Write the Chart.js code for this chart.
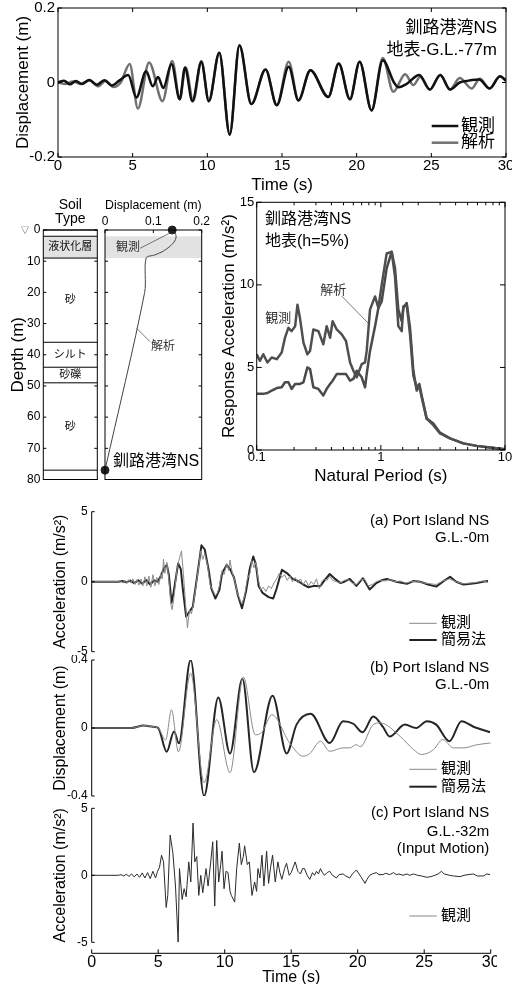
<!DOCTYPE html>
<html lang="ja">
<head>
<meta charset="utf-8">
<title>釧路港湾NS / Port Island NS</title>
<script src="https://cdn.jsdelivr.net/npm/chart.js@4.4.1/dist/chart.umd.min.js"></script>
<style>
  html, body { margin: 0; padding: 0; background: #fff; }
  body { position: relative; width: 512px; height: 984px; overflow: hidden; }
  canvas { position: absolute; }
</style>
</head>
<body>
<canvas id="topDisp"></canvas>
<canvas id="soilCol"></canvas>
<canvas id="soilDisp"></canvas>
<canvas id="spectrum"></canvas>
<canvas id="piAcc"></canvas>
<canvas id="piDisp"></canvas>
<canvas id="piInput"></canvas>
<script>
// ---------- Kushiro Port NS: relative displacement, surface vs G.L.-77m [time s, m] ----------
const kushiroObserved = [[0,0],[0.4,0.005],[0.8,-0.005],[1.2,0.004],[1.6,-0.004],[2.1,0.007],[2.6,-0.006],[3.1,0.006],[3.6,-0.008],[4.1,0.005],[4.7,0.02],[5.25,-0.04],[5.9,0.03],[6.35,-0.01],[6.7,0.015],[7.05,-0.015],[7.6,0.05],[8.15,-0.045],[8.5,0.04],[9.0,-0.05],[9.6,0.055],[10.1,-0.05],[10.8,0.08],[11.5,-0.14],[12.15,0.1],[12.95,-0.058],[13.9,0.035],[14.65,-0.061],[15.45,0.042],[16.1,-0.048],[16.9,0.033],[18.1,-0.039],[18.8,0.051],[19.55,-0.045],[20.2,0.056],[21.0,-0.075],[21.75,0.06],[22.5,0.0],[22.8,-0.013],[23.3,-0.005],[24.2,0.02],[24.9,-0.019],[25.6,0.02],[26.25,-0.019],[26.9,0.0],[27.5,0.005],[28.2,0.008],[28.9,-0.016],[29.6,0.017],[30,0.005]];
const kushiroAnalysis = [[0,0],[0.5,-0.004],[1.0,0.003],[1.5,-0.004],[2.1,0.006],[2.7,-0.01],[3.2,0.005],[3.7,-0.012],[4.2,0.0],[4.8,0.05],[5.35,-0.07],[6.1,0.054],[7.0,-0.05],[7.65,0.058],[8.15,-0.045],[8.55,0.04],[9.05,-0.05],[9.6,0.058],[10.1,-0.05],[10.8,0.08],[11.5,-0.14],[12.15,0.1],[12.95,-0.058],[13.9,0.035],[14.65,-0.061],[15.45,0.056],[16.1,-0.048],[16.9,0.033],[18.1,-0.039],[18.8,0.051],[19.55,-0.045],[20.2,0.056],[21.0,-0.075],[21.75,0.066],[22.45,-0.025],[23.25,0.022],[23.8,-0.007],[24.25,0.015],[24.9,-0.019],[25.6,0.02],[26.25,-0.019],[26.9,0.012],[27.7,-0.016],[28.25,0.01],[28.9,-0.016],[29.6,0.017],[30,0.005]];

// ---------- Soil profile (depth m) and peak displacement profile ----------
const layerBounds = [0, 2, 9, 36, 44, 49, 77];
const layerNames = ['', '液状化層', '砂', 'シルト', '砂礫', '砂'];
const liquefiedRange = [2, 9];
const profileDepth = [0, 1, 2, 3, 4, 5, 6, 7, 8, 9, 20, 77];
const profileDisp = [0.139, 0.145, 0.147, 0.146, 0.142, 0.136, 0.128, 0.118, 0.103, 0.085, 0.082, 0];
const observedPeaks = [[0.139, 0], [0, 77]];   // [displacement m, depth m]

// ---------- Acceleration response spectrum, surface, h=5% ----------
const periods = [0.100,0.106,0.113,0.122,0.132,0.145,0.159,0.169,0.180,0.191,0.204,0.213,0.223,0.238,0.256,0.269,0.286,0.314,0.344,0.366,0.390,0.409,0.441,0.484,0.524,0.565,0.601,0.639,0.701,0.746,0.769,0.818,0.898,0.955,1.016,1.114,1.222,1.300,1.383,1.472,1.518,1.615,1.718,1.827,1.943,2.042,2.132,2.339,2.648,2.996,3.606,4.617,5.913,7.572,10];
const saObserved = [5.8,5.4,5.8,5.3,5.6,5.5,5.9,6.8,7.4,7.2,7.5,8.8,8.0,6.5,5.8,6.0,7.3,7.2,6.4,7.5,6.8,7.8,7.3,7.0,6.6,5.3,4.8,4.4,5.2,5.3,6.0,8.5,9.3,8.6,10.0,11.9,12.0,10.5,7.5,7.2,8.7,8.8,7.0,4.5,3.8,4.0,3.3,1.9,1.5,1.0,0.7,0.4,0.25,0.15,0.05];
const saAnalysis = [3.4,3.4,3.4,3.45,3.6,3.75,3.8,4.1,4.1,3.7,4.0,4.0,4.0,4.1,5.0,4.9,3.8,3.7,3.3,3.7,4.0,4.2,4.6,4.6,4.6,4.2,4.3,4.8,4.4,3.8,4.6,6.0,7.5,8.6,9.0,11.0,12.0,11.0,8.5,7.8,8.6,8.9,7.4,4.8,3.6,3.9,3.2,1.9,1.6,1.05,0.7,0.4,0.25,0.15,0.05];

// ---------- Port Island NS [time s, value] ----------
const accSurfObserved = [[0,0],[2.0,0],[2.2,0.08],[2.35,-0.1],[2.5,0.1],[2.65,-0.12],[2.8,0.15],[2.95,-0.1],[3.1,0.2],[3.25,-0.2],[3.4,0.15],[3.55,-0.25],[3.7,0.2],[3.85,-0.3],[4.0,0.35],[4.15,-0.3],[4.3,0.4],[4.45,-0.4],[4.6,0.5],[4.75,-0.3],[4.9,0.3],[5.05,-0.2],[5.2,0.6],[5.3,0.2],[5.4,1.6],[5.5,0.6],[5.65,1.4],[5.8,0.2],[5.95,-1.6],[6.05,-2.0],[6.2,-1.0],[6.4,0.8],[6.55,1.5],[6.75,2.2],[6.9,0.5],[7.05,-1.5],[7.2,-3.3],[7.35,-2.0],[7.5,-2.3],[7.65,-1.6],[7.8,-0.6],[8.0,0.8],[8.2,2.2],[8.35,1.6],[8.5,2.0],[8.7,1.2],[8.9,-0.2],[9.1,-0.6],[9.3,-1.0],[9.45,-0.8],[9.6,-0.3],[9.8,0.8],[9.95,0.5],[10.15,1.3],[10.3,0.8],[10.4,1.55],[10.55,0.7],[10.75,0.1],[10.95,-0.8],[11.15,-1.3],[11.3,-1.6],[11.5,-1.0],[11.7,0.2],[11.9,0.6],[12.05,1.5],[12.2,1.0],[12.35,1.4],[12.5,0.3],[12.7,-0.6],[12.9,-0.4],[13.1,-0.7],[13.3,-0.3],[13.5,-0.5],[13.7,-0.1],[13.9,0.2],[14.1,0.6],[14.3,0.3],[14.5,0.5],[14.7,0.1],[14.9,0.4],[15.1,0.0],[15.3,0.3],[15.5,-0.1],[15.7,0.2],[15.9,-0.2],[16.1,0.1],[16.3,-0.3],[16.5,0.0],[16.7,-0.2],[16.9,0.2],[17.1,-0.5],[17.3,0.0],[17.5,0.2],[17.7,0.1],[17.9,0.4],[18.1,0.1],[18.4,0.0],[18.7,-0.1],[19.0,0.1],[19.3,0.15],[19.6,-0.1],[19.9,-0.2],[20.2,0.1],[20.5,0.2],[20.8,-0.3],[21.1,-0.2],[21.4,0.0],[21.7,0.1],[22.0,0.05],[22.4,0.15],[22.8,0.0],[23.2,0.05],[23.6,-0.1],[24.0,0.0],[24.5,0.05],[25.0,-0.1],[25.5,-0.15],[25.9,-0.2],[26.4,0.05],[26.9,0.2],[27.4,0.0],[27.9,-0.15],[28.4,-0.1],[28.9,-0.05],[29.4,0.05],[29.8,-0.05]];
const accSurfSimple = [[0,0],[2.0,0],[2.3,0.05],[2.6,-0.05],[2.9,0.08],[3.2,-0.1],[3.5,0.1],[3.8,-0.15],[4.1,0.12],[4.4,-0.2],[4.7,0.1],[4.95,0.0],[5.2,0.4],[5.45,1.0],[5.65,1.2],[5.8,0.5],[6.0,-1.5],[6.15,-0.8],[6.5,1.3],[6.7,0.9],[6.85,-0.5],[7.1,-2.5],[7.3,-2.2],[7.6,-1.8],[7.9,0.2],[8.25,2.6],[8.5,2.3],[8.8,0.8],[9.0,-0.5],[9.3,-1.2],[9.6,-0.6],[9.8,0.6],[10.15,1.2],[10.4,0.9],[10.7,0.3],[11.0,-1.0],[11.3,-1.9],[11.6,-0.7],[11.9,1.0],[12.15,1.8],[12.35,1.2],[12.55,-0.3],[12.85,-0.8],[13.3,-1.1],[13.65,-1.2],[13.9,-0.5],[14.3,0.85],[14.7,0.6],[15.1,0.2],[15.5,0.05],[15.9,-0.2],[16.3,-0.4],[16.7,-0.3],[17.2,-0.3],[17.5,0.1],[17.9,0.55],[18.3,0.2],[18.7,-0.1],[19.0,0.0],[19.4,0.2],[19.9,-0.3],[20.4,0.25],[20.9,-0.55],[21.4,-0.1],[21.8,0.1],[22.2,0.2],[22.9,0.0],[23.7,-0.15],[24.2,0.05],[24.7,0.0],[25.3,-0.2],[25.9,-0.35],[26.4,0.0],[26.95,0.35],[27.4,0.0],[27.95,-0.2],[28.5,-0.15],[28.95,-0.1],[29.4,0.0],[29.8,0.05]];
const dispSurfObserved = [[0,0],[3.0,0],[3.9,0.014],[4.6,0.008],[5.0,0],[5.56,-0.07],[6.0,0.107],[6.52,-0.14],[7.44,0.322],[8.45,-0.322],[9.4,0.049],[10.4,-0.263],[11.4,0.3],[12.3,-0.04],[12.8,-0.025],[13.55,0.078],[14.9,-0.09],[15.9,-0.166],[16.4,-0.15],[17.2,-0.078],[17.9,-0.137],[18.9,-0.117],[19.4,-0.117],[19.9,-0.098],[20.2,-0.11],[21.17,0.02],[21.7,0.03],[23.2,-0.05],[24.2,-0.127],[24.8,-0.156],[25.7,-0.127],[26.4,-0.068],[27.2,-0.117],[27.94,-0.117],[29.0,-0.098],[30,-0.088]];
const dispSurfSimple = [[0,0],[3.0,0],[3.9,0.014],[4.6,0.008],[5.0,0],[5.64,-0.14],[6.19,-0.02],[6.55,-0.09],[7.44,0.4],[8.45,-0.4],[9.52,0.18],[10.4,-0.15],[11.33,0.29],[12.2,-0.26],[13.6,0.19],[14.66,-0.15],[15.4,0.02],[16.46,0.084],[17.9,-0.088],[18.9,0.04],[19.67,0.025],[20.37,-0.025],[21.17,0.068],[21.9,0.006],[22.4,-0.05],[23.55,0.02],[24.4,0.0],[25.2,0.04],[25.9,0.02],[26.9,-0.078],[27.8,0.04],[28.75,0.006],[29.95,-0.025]];
const accInputObserved = [[0,0],[2.0,0],[2.2,0.05],[2.4,-0.05],[2.6,0.08],[2.8,-0.08],[3.0,0.1],[3.2,-0.12],[3.4,0.1],[3.6,-0.15],[3.8,0.18],[4.0,-0.2],[4.2,0.2],[4.4,-0.25],[4.6,0.3],[4.8,-0.2],[4.95,0.3],[5.1,0.6],[5.25,1.5],[5.4,1.0],[5.6,-2.4],[5.72,-1.5],[5.9,3.0],[6.1,1.7],[6.3,-0.8],[6.5,-5.0],[6.6,0.5],[6.8,-1.8],[6.95,-1.0],[7.1,-1.6],[7.3,1.0],[7.45,-0.5],[7.62,3.9],[7.75,1.0],[7.9,1.4],[8.05,-1.5],[8.2,0.0],[8.35,-1.3],[8.5,-0.2],[8.6,0.5],[8.75,-0.8],[8.95,1.0],[9.1,2.5],[9.25,-2.3],[9.4,2.6],[9.55,-0.5],[9.7,0.8],[9.8,1.8],[9.95,-1.0],[10.1,0.3],[10.25,0.2],[10.4,-1.2],[10.5,-1.5],[10.75,-2.0],[10.9,0.5],[11.1,2.4],[11.25,0.8],[11.4,1.4],[11.5,2.2],[11.7,0.8],[11.85,1.0],[12.05,-1.5],[12.25,-0.5],[12.4,-1.2],[12.5,0.5],[12.65,-0.2],[12.8,1.5],[12.95,-0.8],[13.15,1.8],[13.3,-0.6],[13.45,0.6],[13.6,1.5],[13.8,-0.5],[14.0,1.0],[14.15,0.2],[14.3,-0.3],[14.5,0.5],[14.65,0.9],[14.85,0.0],[15.0,0.2],[15.15,0.6],[15.3,1.0],[15.5,0.3],[15.7,0.1],[15.85,0.5],[16.0,0.5],[16.2,0.0],[16.4,-0.3],[16.6,0.2],[16.75,0.0],[16.9,0.3],[17.05,0.1],[17.2,0.5],[17.35,0.2],[17.5,0.0],[17.7,0.2],[17.9,0.3],[18.1,0.0],[18.4,-0.2],[18.6,0.05],[18.9,0.1],[19.1,-0.05],[19.4,-0.2],[19.6,0.1],[19.9,0.4],[20.1,0.1],[20.3,-0.2],[20.55,-0.6],[20.7,-0.3],[20.9,0.0],[21.1,0.1],[21.4,0.2],[21.6,0.05],[21.9,0.05],[22.1,0.15],[22.4,0.05],[22.7,0.2],[22.9,0.05],[23.1,0.1],[23.4,0.0],[23.7,0.1],[23.9,0.0],[24.2,0.1],[24.5,0.0],[24.8,-0.05],[25.2,-0.15],[25.5,-0.1],[25.8,0.0],[26.05,0.1],[26.3,0.3],[26.5,0.1],[26.9,0.0],[27.2,-0.05],[27.7,-0.1],[28.0,0.0],[28.3,0.05],[28.7,0.1],[29.0,-0.05],[29.45,-0.05],[29.7,0.1],[29.95,0.05]];

// ---------- common setup ----------
const FAMILY = "'Liberation Sans', Arial, 'Noto Sans CJK JP', sans-serif";
Chart.defaults.font.family = FAMILY;
Chart.defaults.color = '#000';
Chart.defaults.animation = false;
Chart.defaults.responsive = false;
Chart.defaults.plugins.legend.display = false;
Chart.defaults.plugins.tooltip.enabled = false;
Chart.defaults.elements.point.radius = 0;
Chart.defaults.elements.line.borderJoinStyle = 'round';
const font = (size) => `${size}px ${FAMILY}`;
const noGrid = { display: false, drawTicks: false };

function mountCanvas(id, box) {
  const c = document.getElementById(id);
  c.width = box.w; c.height = box.h;
  Object.assign(c.style, { left: box.x + 'px', top: box.y + 'px', width: box.w + 'px', height: box.h + 'px' });
  return c;
}
// pin an axis to a fixed thickness so the plot area lands where intended
function fixSize(prop, size) {
  return (s) => { s[prop] = size; s.paddingLeft = s.paddingRight = s.paddingTop = s.paddingBottom = 0; };
}
const toXY = (pairs) => pairs.map(([x, y]) => ({ x, y }));

// frame, bare axis lines and inward tick marks
function axesPlugin(cfg) {
  return {
    id: 'axesBox',
    afterDatasetsDraw(chart) {
      const { ctx, chartArea: a } = chart;
      const xs = chart.scales.x, ys = chart.scales.y;
      const t = cfg.ticks || {};
      ctx.save();
      ctx.strokeStyle = '#000';
      ctx.lineWidth = 1;
      const seg = (x1, y1, x2, y2) => { ctx.beginPath(); ctx.moveTo(x1, y1); ctx.lineTo(x2, y2); ctx.stroke(); };
      const minor = (v) => xs.type === 'logarithmic' && Math.abs(Math.log10(v) - Math.round(Math.log10(v))) > 1e-6;
      if (cfg.box) ctx.strokeRect(a.left, a.top, a.right - a.left, a.bottom - a.top);
      xs.ticks.forEach(tk => {
        const px = xs.getPixelForValue(tk.value);
        const f = minor(tk.value) ? 0.6 : 1;
        if (t.top) seg(px, a.top, px, a.top + t.top * f);
        if (t.bottom) seg(px, a.bottom, px, a.bottom - t.bottom * f);
      });
      ys.ticks.forEach(tk => {
        const py = ys.getPixelForValue(tk.value);
        if (t.left) seg(a.left, py, a.left + t.left, py);
        if (t.right) seg(a.right, py, a.right - t.right, py);
      });
      if (cfg.yLine) seg(a.left, ys.getPixelForValue(ys.max), a.left, ys.getPixelForValue(ys.min));
      if (cfg.xLineOffset != null) {
        const y0 = a.bottom + cfg.xLineOffset;
        seg(xs.getPixelForValue(xs.min), y0, xs.getPixelForValue(xs.max), y0);
        xs.ticks.forEach(tk => { const px = xs.getPixelForValue(tk.value); seg(px, y0, px, y0 - 4); });
      }
      ctx.restore();
    }
  };
}

// free text, legend keys and leader lines, given in page coordinates
function notesPlugin(box, items) {
  return {
    id: 'notes',
    afterDraw(chart) {
      const ctx = chart.ctx;
      ctx.save();
      items.forEach(n => {
        if (n.seg) {
          ctx.strokeStyle = n.color || '#000';
          ctx.lineWidth = n.width || 1;
          ctx.beginPath();
          ctx.moveTo(n.seg[0] - box.x, n.seg[1] - box.y);
          ctx.lineTo(n.seg[2] - box.x, n.seg[3] - box.y);
          ctx.stroke();
        } else {
          ctx.font = n.font;
          ctx.fillStyle = n.color || '#000';
          ctx.textAlign = n.align || 'left';
          ctx.textBaseline = 'middle';
          ctx.fillText(n.text, n.x - box.x, n.y - box.y);
        }
      });
      ctx.restore();
    }
  };
}

// shaded depth band (liquefied layer)
function bandPlugin(range, color) {
  return {
    id: 'band',
    beforeDatasetsDraw(chart) {
      const { ctx, chartArea: a, scales: { y } } = chart;
      const y1 = y.getPixelForValue(range[0]), y2 = y.getPixelForValue(range[1]);
      ctx.save();
      ctx.fillStyle = color;
      ctx.fillRect(a.left, y1, a.right - a.left, y2 - y1);
      ctx.restore();
    }
  };
}

// soil layer boundaries and names
const layersPlugin = {
  id: 'layers',
  afterDatasetsDraw(chart) {
    const { ctx, chartArea: a, scales: { y } } = chart;
    ctx.save();
    ctx.strokeStyle = '#000';
    ctx.lineWidth = 1;
    layerBounds.forEach(d => {
      const py = y.getPixelForValue(d);
      ctx.beginPath(); ctx.moveTo(a.left, py); ctx.lineTo(a.right, py); ctx.stroke();
    });
    ctx.fillStyle = '#111';
    ctx.font = font(11);
    ctx.textAlign = 'center';
    ctx.textBaseline = 'middle';
    layerNames.forEach((name, i) => {
      if (!name) return;
      const py = y.getPixelForValue((layerBounds[i] + layerBounds[i + 1]) / 2);
      ctx.fillText(name, (a.left + a.right) / 2, py);
    });
    ctx.restore();
  }
};

// ---------- 1. Kushiro Port displacement time history ----------
const boxTop = { x: 0, y: 0, w: 512, h: 200 };
new Chart(mountCanvas('topDisp', boxTop), {
  type: 'line',
  data: { datasets: [
    { data: toXY(kushiroObserved), borderColor: '#111', borderWidth: 2.5, cubicInterpolationMode: 'monotone' },
    { data: toXY(kushiroAnalysis), borderColor: '#707070', borderWidth: 2.5, cubicInterpolationMode: 'monotone' }
  ] },
  options: {
    layout: { padding: { top: 8, right: 6, left: 0, bottom: 0 } },
    scales: {
      x: { type: 'linear', min: 0, max: 30, grid: noGrid, border: { display: false },
           ticks: { stepSize: 5, font: { size: 15 }, padding: 0, maxRotation: 0, autoSkip: false },
           title: { display: true, text: 'Time (s)', font: { size: 17 }, padding: { top: 0, bottom: 4 } },
           afterFit: fixSize('height', 43) },
      y: { min: -0.2, max: 0.2, grid: noGrid, border: { display: false },
           ticks: { stepSize: 0.2, font: { size: 15 }, padding: 3 },
           title: { display: true, text: 'Displacement (m)', font: { size: 17 }, padding: { top: 13, bottom: 0 } },
           afterFit: fixSize('width', 58) }
    }
  },
  plugins: [
    axesPlugin({ box: true, ticks: { top: 4, bottom: 4, left: 4, right: 4 } }),
    notesPlugin(boxTop, [
      { text: '釧路港湾NS', x: 497, y: 28, align: 'right', font: font(17) },
      { text: '地表-G.L.-77m', x: 497, y: 50, align: 'right', font: font(17) },
      { seg: [431.7, 126, 458.3, 126], color: '#111', width: 2.5 },
      { text: '観測', x: 461, y: 126, font: font(17) },
      { seg: [431.7, 142.7, 458.3, 142.7], color: '#707070', width: 2.5 },
      { text: '解析', x: 461, y: 142.7, font: font(17) }
    ])
  ]
});

// ---------- 2a. Soil type column ----------
const boxSoil = { x: 0, y: 195, w: 100, h: 290 };
new Chart(mountCanvas('soilCol', boxSoil), {
  type: 'line',
  data: { datasets: [] },
  options: {
    layout: { padding: { top: 0, right: 2.7, left: 0, bottom: 5.5 } },
    scales: {
      x: { type: 'linear', position: 'top', min: 0, max: 1, grid: noGrid, border: { display: false },
           ticks: { display: false },
           title: { display: true, text: ['Soil', 'Type'], font: { size: 14, lineHeight: 1.0 }, padding: { top: 3, bottom: 0 } },
           afterFit: fixSize('height', 35) },
      y: { type: 'linear', reverse: true, min: 0, max: 80, grid: noGrid, border: { display: false },
           ticks: { stepSize: 10, font: { size: 12 }, padding: 3 },
           title: { display: true, text: 'Depth (m)', font: { size: 17 }, padding: { top: 8, bottom: 0 } },
           afterFit: fixSize('width', 43.3) }
    }
  },
  plugins: [
    bandPlugin(liquefiedRange, '#e2e2e2'),
    layersPlugin,
    axesPlugin({ box: true, ticks: { left: 3, right: 3 } }),
    notesPlugin(boxSoil, [ { text: '▽', x: 25, y: 231, align: 'center', font: font(8), color: '#444' } ])
  ]
});

// ---------- 2b. Peak displacement profile ----------
const boxProf = { x: 100, y: 195, w: 112, h: 290 };
new Chart(mountCanvas('soilDisp', boxProf), {
  type: 'line',
  data: { datasets: [
    { data: observedPeaks.map(([x, y]) => ({ x, y })), showLine: false, pointRadius: 4,
      pointBackgroundColor: '#222', pointBorderColor: '#222', clip: false },
    { data: profileDepth.map((d, i) => ({ x: profileDisp[i], y: d })), borderColor: '#444', borderWidth: 1, tension: 0.3 }
  ] },
  options: {
    layout: { padding: { top: 0, right: 10.3, left: 3.3, bottom: 5.5 } },
    scales: {
      x: { type: 'linear', position: 'top', min: 0, max: 0.2, grid: noGrid, border: { display: false },
           ticks: { stepSize: 0.1, font: { size: 12 }, padding: 1, maxRotation: 0, autoSkip: false },
           title: { display: true, text: 'Displacement (m)', font: { size: 13 }, padding: { top: 2.2, bottom: 0 } },
           afterFit: fixSize('height', 35) },
      y: { type: 'linear', reverse: true, min: 0, max: 80, display: false, ticks: { stepSize: 10 } }
    }
  },
  plugins: [
    bandPlugin(liquefiedRange, '#e2e2e2'),
    axesPlugin({ box: true, ticks: { left: 3, right: 3, top: 3 } }),
    notesPlugin(boxProf, [
      { text: '観測', x: 128, y: 247.7, align: 'center', font: font(12), color: '#333' },
      { seg: [140, 248.3, 170, 233], color: '#555', width: 0.8 },
      { text: '解析', x: 163, y: 346.7, align: 'center', font: font(12), color: '#333' },
      { seg: [150, 341.7, 136.7, 328.3], color: '#555', width: 0.8 },
      { text: '釧路港湾NS', x: 113, y: 461.7, font: font(16) }
    ])
  ]
});

// ---------- 3. Response spectrum ----------
const boxSpec = { x: 212, y: 195, w: 300, h: 292 };
new Chart(mountCanvas('spectrum', boxSpec), {
  type: 'line',
  data: { datasets: [
    { data: periods.map((p, i) => ({ x: p, y: saObserved[i] })), borderColor: '#4f4f4f', borderWidth: 2.5 },
    { data: periods.map((p, i) => ({ x: p, y: saAnalysis[i] })), borderColor: '#4a4a4a', borderWidth: 2.5 }
  ] },
  options: {
    layout: { padding: { top: 7.3, right: 7, left: 0, bottom: 0 } },
    scales: {
      x: { type: 'logarithmic', min: 0.1, max: 10, grid: noGrid, border: { display: false },
           ticks: { font: { size: 13 }, padding: 0, maxRotation: 0, autoSkip: false,
                    callback: (v) => { const l = Math.log10(v); return Math.abs(l - Math.round(l)) < 1e-6 ? String(v) : ''; } },
           title: { display: true, text: 'Natural Period (s)', font: { size: 17 }, padding: { top: 0, bottom: 0 } },
           afterFit: fixSize('height', 37) },
      y: { min: 0, max: 15, grid: noGrid, border: { display: false },
           ticks: { stepSize: 5, font: { size: 13 }, padding: 2.4 },
           title: { display: true, text: 'Response Acceleration (m/s²)', font: { size: 17 }, padding: { top: 6.8, bottom: 0 } },
           afterFit: fixSize('width', 44.7) }
    }
  },
  plugins: [
    axesPlugin({ box: true, ticks: { top: 5, bottom: 5, left: 5, right: 5 } }),
    notesPlugin(boxSpec, [
      { text: '釧路港湾NS', x: 265, y: 220, font: font(16) },
      { text: '地表(h=5%)', x: 265, y: 241.7, font: font(16) },
      { text: '解析', x: 333.3, y: 290, align: 'center', font: font(13), color: '#333' },
      { seg: [341.7, 296, 368.3, 323.3], color: '#555', width: 0.8 },
      { text: '観測', x: 278.3, y: 318.3, align: 'center', font: font(13), color: '#333' }
    ])
  ]
});

// ---------- 4. Port Island time histories ----------
function timeAxisX(show) {
  return show
    ? { type: 'linear', min: 0, max: 30, grid: noGrid, border: { display: false },
        ticks: { stepSize: 5, font: { size: 16 }, padding: 10.6, maxRotation: 0, autoSkip: false },
        title: { display: true, text: 'Time (s)', font: { size: 16 }, padding: { top: 0, bottom: 2.4 } },
        afterFit: fixSize('height', 47.7) }
    : { type: 'linear', min: 0, max: 30, display: false, ticks: { stepSize: 5 } };
}
function valueAxisY(min, max, step, label) {
  return { min, max, grid: noGrid, border: { display: false },
           ticks: { stepSize: step, font: { size: 12 }, padding: 4 },
           title: { display: true, text: label, font: { size: 16 }, padding: { top: 51.4, bottom: 0 } },
           afterFit: fixSize('width', 91.7) };
}
const legendKeys = (yThin, yThick) => [
  { seg: [409.3, yThin, 436.7, yThin], color: '#888', width: 1 },
  { text: '観測', x: 441, y: yThin, font: font(15) },
  ...(yThick == null ? [] : [
    { seg: [409.3, yThick, 436.7, yThick], color: '#222', width: 2 },
    { text: '簡易法', x: 441, y: yThick, font: font(15) }
  ])
];

const boxA = { x: 0, y: 480, w: 512, h: 180 };
new Chart(mountCanvas('piAcc', boxA), {
  type: 'line',
  data: { datasets: [
    { data: toXY(accSurfObserved), borderColor: '#8a8a8a', borderWidth: 1 },
    { data: toXY(accSurfSimple), borderColor: '#262626', borderWidth: 2 }
  ] },
  options: {
    layout: { padding: { top: 31.7, right: 21.3, left: 0, bottom: 8.3 } },
    scales: { x: timeAxisX(false), y: valueAxisY(-5, 5, 5, 'Acceleration (m/s²)') }
  },
  plugins: [
    axesPlugin({ yLine: true, ticks: { left: 3 } }),
    notesPlugin(boxA, [
      { text: '(a) Port Island NS', x: 489.3, y: 520.7, align: 'right', font: font(15) },
      { text: 'G.L.-0m', x: 489.3, y: 538.3, align: 'right', font: font(15) },
      ...legendKeys(623.3, 640)
    ])
  ]
});

const boxB = { x: 0, y: 655, w: 512, h: 150 };
new Chart(mountCanvas('piDisp', boxB), {
  type: 'line',
  data: { datasets: [
    { data: toXY(dispSurfObserved), borderColor: '#8a8a8a', borderWidth: 1, cubicInterpolationMode: 'monotone' },
    { data: toXY(dispSurfSimple), borderColor: '#262626', borderWidth: 2, cubicInterpolationMode: 'monotone' }
  ] },
  options: {
    layout: { padding: { top: 5, right: 21.3, left: 0, bottom: 9 } },
    scales: { x: timeAxisX(false), y: valueAxisY(-0.4, 0.4, 0.4, 'Displacement (m)') }
  },
  plugins: [
    axesPlugin({ yLine: true, ticks: { left: 3 } }),
    notesPlugin(boxB, [
      { text: '(b) Port Island NS', x: 489.3, y: 668.3, align: 'right', font: font(15) },
      { text: 'G.L.-0m', x: 489.3, y: 685, align: 'right', font: font(15) },
      ...legendKeys(769.3, 786.7)
    ])
  ]
});

const boxC = { x: 0, y: 800, w: 497, h: 190 };
new Chart(mountCanvas('piInput', boxC), {
  type: 'line',
  data: { datasets: [
    { data: toXY(accInputObserved), borderColor: '#2a2a2a', borderWidth: 1 }
  ] },
  options: {
    layout: { padding: { top: 8.3, right: 6.3, left: 0, bottom: 0 } },
    scales: { x: timeAxisX(true), y: valueAxisY(-5, 5, 5, 'Acceleration (m/s²)') }
  },
  plugins: [
    axesPlugin({ yLine: true, ticks: { left: 3 }, xLineOffset: 11 }),
    notesPlugin(boxC, [
      { text: '(c) Port Island NS', x: 489.3, y: 813.3, align: 'right', font: font(15) },
      { text: 'G.L.-32m', x: 489.3, y: 831.7, align: 'right', font: font(15) },
      { text: '(Input Motion)', x: 489.3, y: 849.3, align: 'right', font: font(15) },
      ...legendKeys(916, null)
    ])
  ]
});
</script>
</body>
</html>
